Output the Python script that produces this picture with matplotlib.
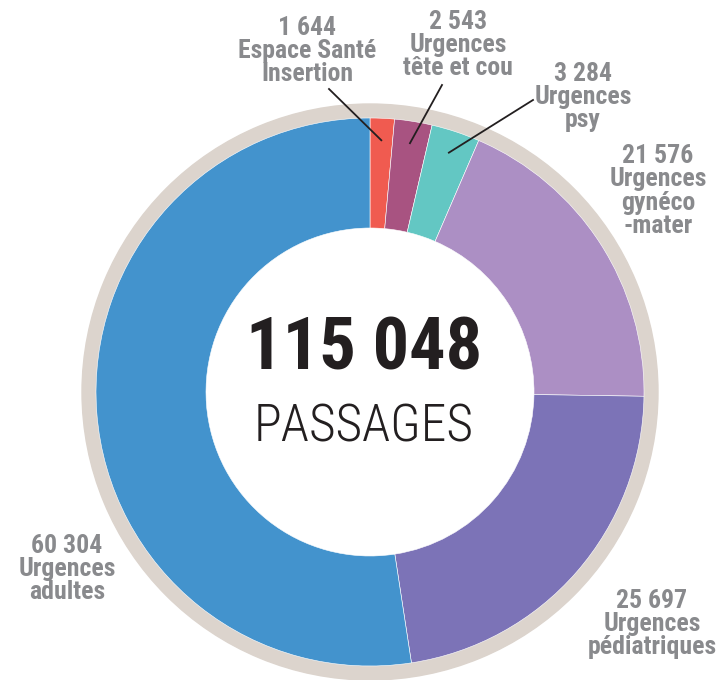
import numpy as np
import matplotlib.pyplot as plt
from matplotlib.patches import Wedge

# Passages par service
services = ['Espace Santé\nInsertion', 'Urgences\ntête et cou', 'Urgences\npsy',
            'Urgences\ngynéco\n-mater', 'Urgences\npédiatriques', 'Urgences\nadultes']
passages = [1644, 2543, 3284, 21576, 25697, 60304]
colors = ['#f05b50', '#a85381', '#63c7c3', '#ac8fc4', '#7c73b7', '#4393cd']
total = sum(passages)


def fmt(n):
    return '{:,}'.format(n).replace(',', ' ')


W, H = 726, 680
fig = plt.figure(figsize=(W / 100, H / 100), dpi=100)
ax = fig.add_axes([0, 0, 1, 1])

cx, cy = 370, H - 392
r_out, r_in = 274, 164

# grey outer ring
ax.add_patch(Wedge((cx, cy), 288, 0, 360, width=16, color='#dcd4cd', zorder=0))

wedges, _ = ax.pie(passages, colors=colors, startangle=90, counterclock=False,
                   radius=r_out, center=(cx, cy), frame=True,
                   wedgeprops=dict(width=r_out - r_in, edgecolor='white', linewidth=0.4))
ax.set_xlim(0, W)
ax.set_ylim(0, H)
ax.set_aspect('equal')
ax.axis('off')

font = ['Roboto Condensed', 'DejaVu Sans Condensed', 'Liberation Sans Narrow', 'DejaVu Sans']
grey = '#898a8d'

# label positions (pixel coords, y from top) and leader line start
label_pos = [(307, 51), (458, 45), (583, 97), (658, 191), (652, 624), (67, 569)]
line_start = [(329, 89), (442, 85), (533, 100), None, None, None]

for i, (name, val) in enumerate(zip(services, passages)):
    x, y = label_pos[i]
    ax.text(x, H - y, fmt(val) + '\n' + name, ha='center', va='center',
            fontsize=18.5, fontweight='bold', color=grey, family=font,
            linespacing=0.95)
    if line_start[i] is not None:
        w = wedges[i]
        mid = np.deg2rad((w.theta1 + w.theta2) / 2)
        px = cx + 252 * np.cos(mid)
        py = cy + 252 * np.sin(mid)
        sx, sy = line_start[i]
        ax.plot([sx, px], [H - sy, py], color='#231f20', lw=1.3, zorder=5)

ax.text(364, H - 350, fmt(total), ha='center', va='center', fontsize=52,
        fontweight='bold', color='#231f20', family=font)
ax.text(364, H - 427, 'PASSAGES', ha='center', va='center', fontsize=37,
        fontweight='light', color='#231f20', family=font)

fig.savefig('out.png', dpi=100)
